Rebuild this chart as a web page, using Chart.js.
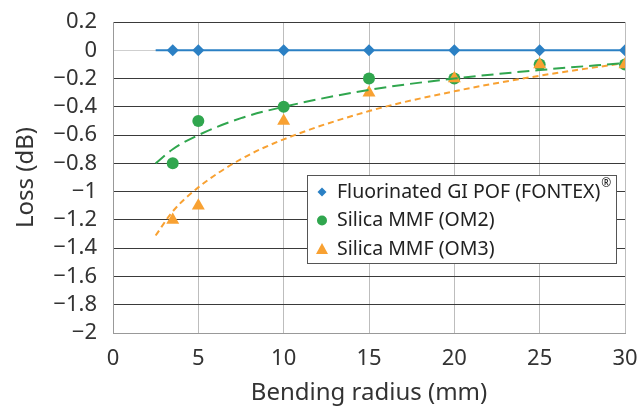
<!DOCTYPE html>
<html><head><meta charset="utf-8">
<script src="https://cdn.jsdelivr.net/npm/chart.js@4/dist/chart.umd.min.js"></script>
<style>html,body{margin:0;padding:0;background:#fff}#wrap{width:638px;height:410px;position:relative}</style>
</head><body><div id="wrap"><canvas id="c" width="638" height="410"></canvas></div>
<script>
const radiusMM = [3.5, 5, 10, 15, 20, 25, 30];
const lossPOF = [0, 0, 0, 0, 0, 0, 0];
const lossOM2 = [-0.8, -0.5, -0.4, -0.2, -0.2, -0.1, -0.1];
const lossOM3 = [-1.2, -1.1, -0.5, -0.3, -0.2, -0.1, -0.1];
const trendX = [2.5, 3.5, 5, 7.5, 10, 15, 20, 25, 30];
const trendPOF = [0, 0, 0, 0, 0, 0, 0, 0, 0];
const trendOM2 = [-0.80, -0.70, -0.60, -0.48, -0.40, -0.28, -0.20, -0.14, -0.09];
const trendOM3 = [-1.31, -1.14, -0.97, -0.77, -0.63, -0.43, -0.29, -0.18, -0.09];
const seriesNames = ['Fluorinated GI POF (FONTEX)', 'Silica MMF (OM2)', 'Silica MMF (OM3)'];
const seriesSup = ['\u00AE', '', ''];
const xTicks = [0, 5, 10, 15, 20, 25, 30];
const yTicks = [0.2, 0, -0.2, -0.4, -0.6, -0.8, -1, -1.2, -1.4, -1.6, -1.8, -2];
const xTitle = 'Bending radius (mm)';
const yTitle = 'Loss (dB)';

const COL = ['#2b80c4', '#30a64e', '#f8a132'];
const STYLE = ['rectRot', 'circle', 'triangle'];
const FONT = "'Noto Sans', sans-serif";
const pts = (xs, ys) => xs.map((x, i) => ({x: x, y: ys[i]}));
const fmt = v => { const r = Math.round(v * 10) / 10; return (r < 0 ? '\u2212' : '') + String(Math.abs(r)); };

const legendPlugin = {
  id: 'boxLegend',
  afterDraw(chart) {
    const ctx = chart.ctx;
    const x0 = 307, y0 = 175, w = 309, h = 88;
    ctx.save();
    ctx.fillStyle = '#fff';
    ctx.fillRect(x0, y0, w, h);
    ctx.strokeStyle = '#555';
    ctx.lineWidth = 1;
    ctx.strokeRect(x0 + 0.5, y0 + 0.5, w, h);
    seriesNames.forEach((name, i) => {
      const cy = y0 + 17 + i * 28.5;
      const mx = x0 + 15;
      ctx.fillStyle = COL[i];
      ctx.beginPath();
      if (i === 0) { ctx.moveTo(mx, cy - 4.5); ctx.lineTo(mx + 4.5, cy); ctx.lineTo(mx, cy + 4.5); ctx.lineTo(mx - 4.5, cy); }
      else if (i === 1) { ctx.arc(mx, cy, 5, 0, Math.PI * 2); }
      else { ctx.moveTo(mx, cy - 6); ctx.lineTo(mx + 6, cy + 5); ctx.lineTo(mx - 6, cy + 5); }
      ctx.closePath(); ctx.fill();
      ctx.fillStyle = '#222';
      ctx.font = "19.5px " + FONT;
      ctx.textBaseline = 'middle';
      ctx.textAlign = 'left';
      ctx.fillText(name, x0 + 30, cy);
      if (seriesSup[i]) {
        const tw = ctx.measureText(name).width;
        ctx.font = "12px " + FONT;
        ctx.fillText(seriesSup[i], x0 + 31 + tw, cy - 8);
      }
    });
    ctx.restore();
  }
};

new Chart(document.getElementById('c'), {
  type: 'scatter',
  data: {
    datasets: [
      {label: seriesNames[2], data: pts(radiusMM, lossOM3), backgroundColor: COL[2], borderColor: COL[2], pointStyle: STYLE[2], pointRadius: 7.5, borderWidth: 0, showLine: false, order: 1},
      {label: seriesNames[1], data: pts(radiusMM, lossOM2), backgroundColor: COL[1], borderColor: COL[1], pointStyle: STYLE[1], pointRadius: 6, borderWidth: 0, showLine: false, order: 2},
      {label: seriesNames[0], data: pts(radiusMM, lossPOF), backgroundColor: COL[0], borderColor: COL[0], pointStyle: STYLE[0], pointRadius: 6, borderWidth: 0, showLine: false, order: 3},
      {label: 'trend OM2', data: pts(trendX, trendOM2), showLine: true, borderColor: COL[1], borderWidth: 2, borderDash: [12, 6], pointRadius: 0, cubicInterpolationMode: 'monotone', order: 0},
      {label: 'trend OM3', data: pts(trendX, trendOM3), showLine: true, borderColor: COL[2], borderWidth: 2, borderDash: [6, 4], pointRadius: 0, cubicInterpolationMode: 'monotone', order: 5},
      {label: 'trend POF', data: pts(trendX, trendPOF), showLine: true, borderColor: COL[0], borderWidth: 2, pointRadius: 0, order: 6}
    ]
  },
  options: {
    responsive: false,
    animation: false,
    devicePixelRatio: 1,
    layout: {padding: {top: 22, right: 13, left: 0, bottom: 0}},
    plugins: {legend: {display: false}, tooltip: {enabled: false}},
    scales: {
      x: {
        type: 'linear', min: 0, max: 30,
        afterBuildTicks: s => { s.ticks = xTicks.map(v => ({value: v})); },
        afterFit: s => { s.height = 77; s.paddingLeft = 0; s.paddingRight = 0; },
        ticks: {color: '#333', font: {family: FONT, size: 22}, padding: 13, autoSkip: false, callback: v => fmt(v), maxRotation: 0},
        grid: {color: '#bdbdbd', lineWidth: 1, drawTicks: false},
        border: {color: '#999', width: 1},
        title: {display: true, text: xTitle, color: '#333', font: {family: FONT, size: 24}, padding: {top: 0, bottom: 2}}
      },
      y: {
        type: 'linear', min: -2, max: 0.2,
        afterBuildTicks: s => { s.ticks = yTicks.map(v => ({value: v})); },
        afterFit: s => { s.width = 113; s.paddingTop = 0; s.paddingBottom = 0; },
        ticks: {color: '#333', font: {family: FONT, size: 22}, padding: 16, autoSkip: false, callback: v => fmt(v)},
        grid: {color: ctx => { const v = Math.round(ctx.tick.value * 10) / 10; return v === 0 ? '#cfcfcf' : (v === -2 ? '#999' : '#3a3a3a'); }, lineWidth: 1, drawTicks: false},
        border: {color: '#999', width: 1},
        title: {display: true, text: yTitle, color: '#333', font: {family: FONT, size: 24}, padding: {top: 12, bottom: 0}}
      }
    }
  },
  plugins: [legendPlugin]
});
</script></body></html>
